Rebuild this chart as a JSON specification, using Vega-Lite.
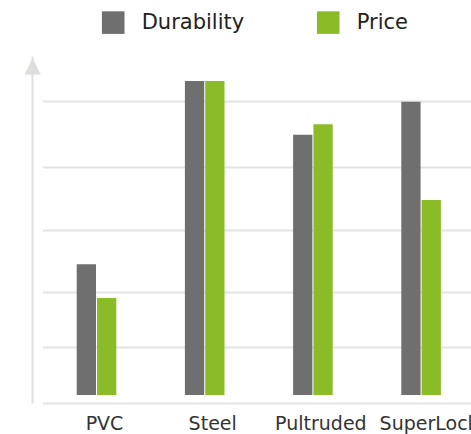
{
  "$schema": "https://vega.github.io/schema/vega-lite/v6.json",
  "width": 420,
  "height": 347,
  "autosize": {"type": "none"},
  "padding": {"left": 51, "top": 56, "right": 0, "bottom": 31},
  "data": {
    "values": [
      {"material": "PVC", "metric": "Durability", "value": 4.16},
      {"material": "PVC", "metric": "Price", "value": 3.09},
      {"material": "Steel", "metric": "Durability", "value": 10},
      {"material": "Steel", "metric": "Price", "value": 10},
      {"material": "Pultruded", "metric": "Durability", "value": 8.29},
      {"material": "Pultruded", "metric": "Price", "value": 8.62},
      {"material": "SuperLock", "metric": "Durability", "value": 9.34},
      {"material": "SuperLock", "metric": "Price", "value": 6.21}
    ]
  },
  "mark": {"type": "bar"},
  "encoding": {
    "x": {
      "field": "material",
      "type": "nominal",
      "sort": ["PVC", "Steel", "Pultruded", "SuperLock"],
      "scale": {"range": [-8.6, 424.2], "paddingInner": 0.634, "paddingOuter": 0.317},
      "axis": {
        "title": null,
        "domain": false,
        "ticks": false,
        "labelAngle": 0,
        "labelFont": "DejaVu Sans",
        "labelFontSize": 19,
        "labelColor": "#333333",
        "labelBaseline": "alphabetic",
        "labelPadding": 26,
        "labelOffset": 8,
        "labelOverlap": false,
        "labelBound": false
      }
    },
    "xOffset": {
      "field": "metric",
      "sort": ["Durability", "Price"],
      "scale": {"paddingInner": 0.05}
    },
    "y": {
      "field": "value",
      "type": "quantitative",
      "scale": {"domain": [-0.255, 10.796], "nice": false},
      "axis": {
        "title": "▲",
        "titleAngle": 0,
        "titleX": 0,
        "titleY": -2,
        "titleAlign": "center",
        "titleBaseline": "top",
        "titleFont": "DejaVu Sans",
        "titleFontSize": 21,
        "titleColor": "#dedede",
        "values": [-0.255, 1.529, 3.28, 5.255, 7.261, 9.363],
        "labels": false,
        "ticks": false,
        "domainColor": "#e0e0e0",
        "domainWidth": 2,
        "offset": 19,
        "gridColor": "#e3e3e3",
        "gridWidth": 2
      }
    },
    "y2": {"datum": 0},
    "color": {
      "field": "metric",
      "type": "nominal",
      "scale": {"domain": ["Durability", "Price"], "range": ["#6f6f6f", "#8bbb27"]},
      "legend": {
        "orient": "none",
        "legendX": 50.7,
        "legendY": -45,
        "direction": "horizontal",
        "title": null,
        "padding": 0,
        "symbolType": "square",
        "symbolSize": 510,
        "symbolStrokeWidth": 0,
        "labelFont": "DejaVu Sans",
        "labelFontSize": 21,
        "labelColor": "#222222",
        "labelOffset": 17,
        "columnPadding": 72
      }
    }
  },
  "config": {"view": {"stroke": null}}
}
